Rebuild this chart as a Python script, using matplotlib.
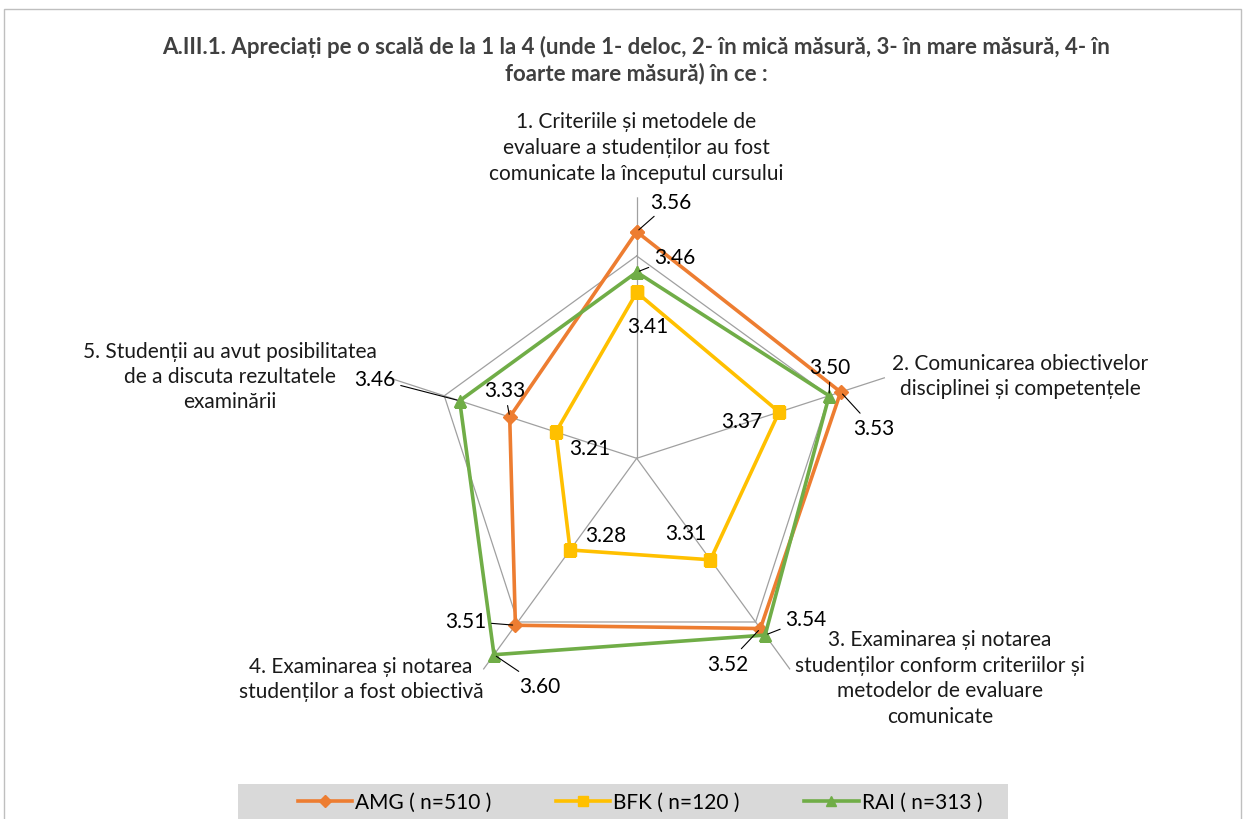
import numpy as np
import matplotlib
matplotlib.use("Agg")
import matplotlib.pyplot as plt
from matplotlib.patches import Rectangle

plt.rcParams['font.family'] = ['Lato', 'DejaVu Sans']

# --- Data ---
categories = [
    "1. Criteriile și metodele de\nevaluare a studenților au fost\ncomunicate la începutul cursului",
    "2. Comunicarea obiectivelor\ndisciplinei și competențele",
    "3. Examinarea și notarea\nstudenților conform criteriilor și\nmetodelor de evaluare\ncomunicate",
    "4. Examinarea și notarea\nstudenților a fost obiectivă",
    "5. Studenții au avut posibilitatea\nde a discuta rezultatele\nexaminării",
]
series_names = ["AMG ( n=510 )", "BFK ( n=120 )", "RAI ( n=313 )"]
amg = [3.56, 3.53, 3.52, 3.51, 3.33]
bfk = [3.41, 3.37, 3.31, 3.28, 3.21]
rai = [3.46, 3.50, 3.54, 3.60, 3.46]

r_min, r_max, r_grid = 3.0, 3.645, 3.5

colors = ['#ED7D31', '#FFC000', '#70AD47']
markers = ['D', 's', '^']
msizes = [7, 9, 9]

# label offsets (pixels) for each value, per series, per axis
offsets = [
    [(34, 30), (33, -36), (-33, -35), (-50, 4), (-5, 27)],
    [(11, -34), (-37, -9), (-25, 27), (36, 15), (34, -16)],
    [(38, 15), (1, 29), (41, 16), (46, -31), (-85, 22)],
]
leaders = [
    [True, True, True, True, True],
    [False, False, False, False, False],
    [True, True, True, True, True],
]

W, H = 1246, 820
fig = plt.figure(figsize=(W / 100, H / 100), dpi=100)

# outer border
fig.add_artist(Rectangle((4 / W, -0.05), 1237 / W, 1 - 10 / H + 0.05,
                         transform=fig.transFigure, fill=False,
                         edgecolor='#bfbfbf', lw=1))

cx, cy, rad = 636.7, 459.3, 261
ax = fig.add_axes([(cx - rad) / W, 1 - (cy + rad) / H, 2 * rad / W, 2 * rad / H],
                  projection='polar')
ax.set_theta_offset(np.pi / 2)
ax.set_theta_direction(-1)
ax.set_rlim(r_min, r_max)
ax.grid(False)
ax.set_xticks([])
ax.set_yticks([])
ax.spines['polar'].set_visible(False)
ax.patch.set_alpha(0)

n = len(categories)
angles = np.linspace(0, 2 * np.pi, n, endpoint=False)
closed = np.append(angles, angles[0])

for t in angles:
    ax.plot([t, t], [r_min, r_max], color='#a0a0a0', lw=0.9, zorder=1)
ax.plot(closed, [r_grid] * (n + 1), color='#a0a0a0', lw=0.9, zorder=1)

for k, vals in enumerate([amg, bfk, rai]):
    v = vals + vals[:1]
    ax.plot(closed, v, color=colors[k], lw=2.6, marker=markers[k],
            markersize=msizes[k], label=series_names[k], zorder=3 + k)
    for i in range(n):
        dx, dy = offsets[k][i]
        props = None
        if leaders[k][i]:
            props = dict(arrowstyle='-', color='black', lw=0.8,
                         shrinkA=2, shrinkB=2)
        ax.annotate(f"{vals[i]:.2f}", (angles[i], vals[i]), xytext=(dx, dy),
                    textcoords='offset pixels', ha='center', va='center',
                    fontsize=15, color='black', arrowprops=props, zorder=10)

# category labels, one text per line
cat_pos = [(636, 148), (1020, 376.5), (940, 678.5), (361, 679.5), (230, 377)]
line_h = 25.5
for txt, (x, y) in zip(categories, cat_pos):
    lines = txt.split('\n')
    m = len(lines)
    for j, ln in enumerate(lines):
        yy = y + (j - (m - 1) / 2) * line_h
        fig.text(x / W, 1 - yy / H, ln, ha='center', va='center',
                 fontsize=15, color='#1a1a1a')

fig.text(636 / W, 1 - 60 / H,
         "A.III.1. Apreciați pe o scală de la 1 la 4 (unde 1- deloc, 2- în mică măsură, 3- în mare măsură, 4- în\n"
         "foarte mare măsură) în ce :",
         ha='center', va='center', fontsize=16, fontweight='bold',
         linespacing=1.28, color='#404040')

# legend
fig.add_artist(Rectangle((238 / W, 0), 770 / W, 35 / H, transform=fig.transFigure,
                         facecolor='#d9d9d9', edgecolor='none'))
handles, labels = ax.get_legend_handles_labels()
fig.legend(handles, labels, loc='center', bbox_to_anchor=(640 / W, 1 - 803 / H),
           ncol=3, frameon=False, fontsize=15, handlelength=2.6,
           columnspacing=3.1, handletextpad=0.15, markerscale=0.85)

fig.savefig('out.png', dpi=100)
